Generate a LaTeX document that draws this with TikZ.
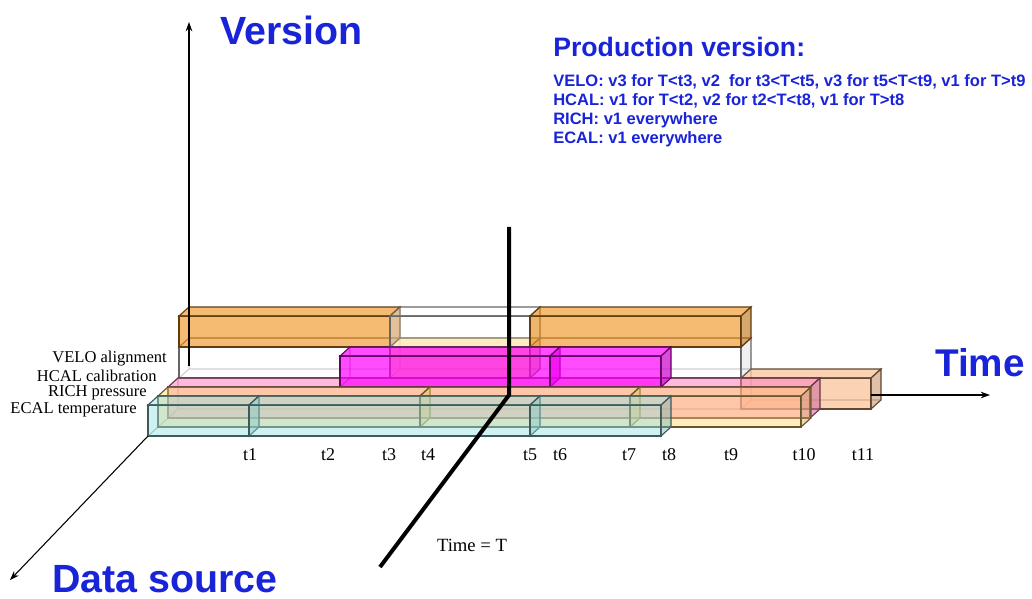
\documentclass[tikz,border=0pt]{standalone}
\usepackage{fontspec}
\setmainfont{Liberation Serif}
\setsansfont{Liberation Sans}
\usetikzlibrary{arrows.meta}

\definecolor{titleblue}{RGB}{25,35,215}
\definecolor{orng}{RGB}{240,150,40}
\definecolor{peach}{RGB}{245,175,120}
\definecolor{yel}{RGB}{255,215,110}
\definecolor{pnk}{RGB}{255,130,190}
\definecolor{mag}{RGB}{255,0,255}
\definecolor{cyn}{RGB}{150,225,225}

% box: left x, right x, top y, colour, opacity
\newcommand{\tbox}[5]{%
  \draw[#4!40!black, draw opacity=.45, line width=.8pt] (#1,#3+31) -- (#1+10,#3+22) -- (#1+10,#3-9) (#1+10,#3+22) -- (#2+10,#3+22);
  \filldraw[draw=#4!40!black, line width=.85pt, fill=#4, fill opacity=#5] (#1,#3) rectangle (#2,#3+31);
  \filldraw[draw=#4!40!black, line width=.85pt, fill=#4, fill opacity=#5] (#1,#3) -- (#1+10,#3-9) -- (#2+10,#3-9) -- (#2,#3) -- cycle;
  \filldraw[draw=#4!40!black, line width=.85pt, fill=#4!80!black, fill opacity=#5] (#2,#3) -- (#2+10,#3-9) -- (#2+10,#3+22) -- (#2,#3+31) -- cycle;
}

\begin{document}
\begin{tikzpicture}[x=0.75pt, y=-0.75pt, >={Stealth[length=7pt,width=5pt]}]
\useasboundingbox (0,0) rectangle (1032,599);

% VELO boxes
\tbox{741}{871}{378}{peach}{.55}
\tbox{179}{741}{347}{white}{.3}
\tbox{390}{530}{347}{yel}{.6}
\tbox{179}{390}{316}{orng}{.65}
\tbox{390}{530}{316}{white}{.3}
\tbox{530}{741}{316}{orng}{.65}

% Version axis
\coordinate (O) at (189,366);
\coordinate (vtop) at (189,22);
\draw[->, thick] (O) -- (vtop);

% HCAL boxes
\tbox{168}{810}{387}{pnk}{.55}
\tbox{340}{550}{356}{mag}{.7}
\tbox{550}{661}{356}{mag}{.7}

% RICH boxes
\tbox{158}{420}{396}{yel}{.45}
\tbox{420}{630}{396}{yel}{.45}
\tbox{630}{801}{396}{yel}{.45}

% ECAL boxes
\tbox{148}{249}{405}{cyn}{.45}
\tbox{249}{530}{405}{cyn}{.45}
\tbox{530}{661}{405}{cyn}{.45}

% Time and data source axes
\coordinate (tstart) at (871,395);
\coordinate (tend) at (990,395);
\draw[->, thick] (tstart) -- (tend);
\coordinate (dstart) at (148,436);
\coordinate (dend) at (10,580);
\draw[->, thick] (dstart) -- (dend);

% Time = T
\coordinate (Ttop) at (509,227);
\coordinate (Tbend) at (509,395);
\coordinate (Tbot) at (380,567);
\draw[line width=3pt] (Ttop) -- (Tbend) -- (Tbot);
\node[font=\fontsize{14}{16}\selectfont] (Tlbl) at (472,545) {Time = T};

% Time stamps
\foreach \x/\n in {250/1, 328/2, 389/3, 428/4, 530/5, 560/6, 629/7, 669/8, 731/9, 804/10, 863/11}
  \node[font=\fontsize{13.5}{15}\selectfont] (t\n) at (\x,455) {t\n};

% Data source names
\begin{scope}[every node/.style={anchor=east, font=\fontsize{12.4}{14}\selectfont, inner sep=0pt}]
\node (lvelo) at (167,359) {VELO alignment};
\node (lhcal) at (157,376) {HCAL calibration};
\node (lrich) at (147,393) {RICH pressure};
\node (lecal) at (137,410) {ECAL temperature};
\end{scope}

% Titles
\begin{scope}[every node/.style={anchor=base west, text=titleblue, inner sep=0pt}]
\node[font=\sffamily\bfseries\fontsize{29.5}{32}\selectfont] (version) at (220,45) {Version};
\node[font=\sffamily\bfseries\fontsize{29}{32}\selectfont] (time) at (935,376) {Time};
\node[font=\sffamily\bfseries\fontsize{29.5}{32}\selectfont] (source) at (52,592) {Data source};
\node[font=\sffamily\bfseries\fontsize{20}{22}\selectfont] (prod) at (553,57) {Production version:};
\node[font=\sffamily\bfseries\fontsize{12.4}{14}\selectfont] (pvelo) at (553,87) {VELO: v3 for T<t3, v2\ \ for t3<T<t5, v3 for t5<T<t9, v1 for T>t9};
\node[font=\sffamily\bfseries\fontsize{12.4}{14}\selectfont] (phcal) at (553,106) {HCAL: v1 for T<t2, v2 for t2<T<t8, v1 for T>t8};
\node[font=\sffamily\bfseries\fontsize{12.4}{14}\selectfont] (prich) at (553,125) {RICH: v1 everywhere};
\node[font=\sffamily\bfseries\fontsize{12.4}{14}\selectfont] (pecal) at (553,144) {ECAL: v1 everywhere};
\end{scope}
\end{tikzpicture}
\end{document}
